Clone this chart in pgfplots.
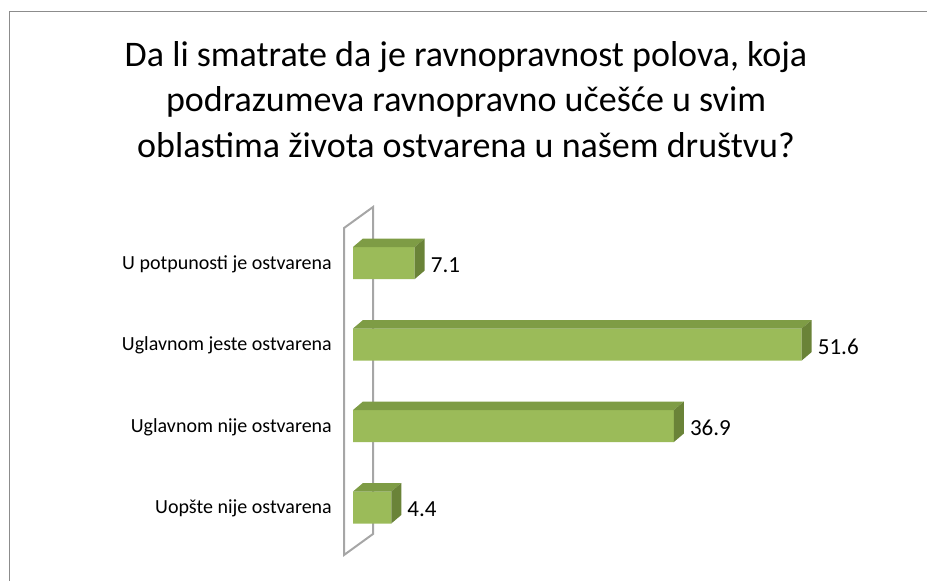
\documentclass[border=0pt]{standalone}
\usepackage{pgfplots}
\pgfplotsset{compat=1.18}
\usepackage{fontspec}
\setmainfont{Carlito}

\definecolor{barfront}{HTML}{9BBB59}
\definecolor{bartop}{HTML}{7E9C45}
\definecolor{barside}{HTML}{6A8338}
\definecolor{wallgray}{HTML}{A6A6A6}
\definecolor{framegray}{HTML}{8C8C8C}

% top and right faces of a 3D bar, drawn at the bar's end point
\newcommand{\xunit}{8.696}
\pgfdeclareplotmark{bar3d}{%
  \pgfmathsetmacro\L{\rawx*\xunit}%
  \pgfpathmoveto{\pgfpoint{-\L pt}{16pt}}%
  \pgfpathlineto{\pgfpoint{0pt}{16pt}}%
  \pgfpathlineto{\pgfpoint{10pt}{24.5pt}}%
  \pgfpathlineto{\pgfpoint{-\L pt+10pt}{24.5pt}}%
  \pgfpathclose
  \pgfsetfillcolor{bartop}\pgfusepath{fill}%
  \pgfpathmoveto{\pgfpoint{0pt}{-16pt}}%
  \pgfpathlineto{\pgfpoint{0pt}{16pt}}%
  \pgfpathlineto{\pgfpoint{10pt}{24.5pt}}%
  \pgfpathlineto{\pgfpoint{10pt}{-7.5pt}}%
  \pgfpathclose
  \pgfsetfillcolor{barside}\pgfusepath{fill}%
}

\begin{document}
\begin{tikzpicture}[x=1pt,y=1pt]
\useasboundingbox (0,-581) rectangle (927,0);
\draw[framegray, line width=1.5pt] (9.5,-581) -- (9.5,-11.5) -- (927,-11.5);

\begin{scope}[every node/.style={font=\fontsize{36}{44}\selectfont, anchor=base, inner sep=0pt}]
\node at (466,-66) {Da li smatrate da je ravnopravnost polova, koja};
\node at (466,-111.5) {podrazumeva ravnopravno učešće u svim};
\node at (466,-157) {oblastima života ostvarena u našem društvu?};
\end{scope}

\begin{axis}[
  at={(353pt,-548.25pt)}, anchor=south west,
  scale only axis, width=521.76pt, height=326pt,
  xmin=0, xmax=60, ymin=-0.5, ymax=3.5,
  hide x axis,
  axis y line*=left, y axis line style={draw=none},
  major tick length=0pt,
  ytick={0,1,2,3},
  yticklabels={Uopšte nije ostvarena, Uglavnom nije ostvarena, Uglavnom jeste ostvarena, U potpunosti je ostvarena},
  yticklabel style={font=\fontsize{20}{24}\selectfont, anchor=east, inner sep=0pt, xshift=-21pt, yshift=-1pt},
  clip=false,
  /pgf/number format/assume math mode=true,
  /pgf/number format/.cd, fixed, fixed zerofill, precision=1,
]
\draw[wallgray, line width=2pt] (axis cs:-1.035,-0.583) -- (axis cs:-1.035,3.429)
  -- (axis cs:2.30,3.687) -- (axis cs:2.30,-0.325) -- cycle;

\addplot[xbar, bar width=32pt, fill=barfront, draw=none,
  nodes near coords,
  nodes near coords style={font=\fontsize{23}{27}\selectfont, anchor=west, inner sep=0pt, xshift=16pt, yshift=-2pt, text=black}]
  coordinates {(4.4,0) (36.9,1) (51.6,2) (7.1,3)};

\addplot[only marks, mark=bar3d, visualization depends on={rawx \as \rawx}]
  coordinates {(4.4,0) (36.9,1) (51.6,2) (7.1,3)};
\end{axis}
\end{tikzpicture}
\end{document}
